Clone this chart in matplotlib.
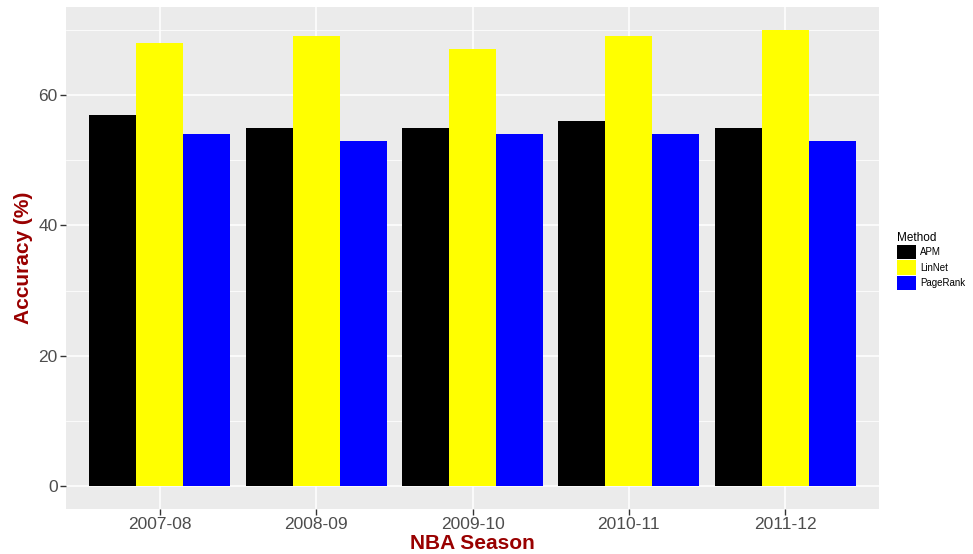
import numpy as np
import matplotlib
matplotlib.use("Agg")
import matplotlib.pyplot as plt
from matplotlib.patches import Patch

plt.rcParams['font.family'] = ['Liberation Sans', 'DejaVu Sans']

# data
seasons = ["2007-08", "2008-09", "2009-10", "2010-11", "2011-12"]
methods = ["APM", "LinNet", "PageRank"]
apm = [57, 55, 55, 56, 55]
linnet = [68, 69, 67, 69, 70]
pagerank = [54, 53, 54, 54, 53]
colors = ["black", "yellow", "blue"]

W, H = 973, 554
fig = plt.figure(figsize=(W / 100, H / 100), dpi=100)
# panel in pixels: left 66, right 879, top 7, bottom 509
ax = fig.add_axes([66 / W, 1 - 509 / H, (879 - 66) / W, (509 - 7) / H])
ax.set_facecolor("#EBEBEB")

x = np.arange(1, len(seasons) + 1)
bw = 0.3
for i, (vals, c) in enumerate(zip([apm, linnet, pagerank], colors)):
    ax.bar(x + (i - 1) * bw, vals, width=bw, color=c, zorder=3, linewidth=0)

ax.set_xlim(0.4, 5.6)
ax.set_ylim(-3.5, 73.5)
ax.set_xticks(x)
ax.set_xticklabels(seasons)
ax.set_yticks([0, 20, 40, 60])
ax.set_yticks([10, 30, 50, 70], minor=True)

ax.grid(True, which="major", color="white", linewidth=1.1, zorder=0)
ax.grid(True, which="minor", axis="y", color="white", linewidth=0.55, zorder=0)
for s in ax.spines.values():
    s.set_visible(False)
ax.tick_params(axis="both", which="major", colors="#333333", labelcolor="#4D4D4D",
               labelsize=12.5, length=4, width=1, pad=2)
ax.tick_params(axis="both", which="minor", length=0)

ax.set_xlabel("NBA Season", fontsize=15, fontweight="bold", color="#990000", labelpad=1)
ax.set_ylabel("Accuracy (%)", fontsize=15, fontweight="bold", color="#990000", labelpad=4)

handles = [Patch(facecolor=c, edgecolor="none") for c in colors]
leg = fig.legend(handles, methods, title="Method", loc="center left",
                 bbox_to_anchor=(894 / W, 1 - 261 / H), frameon=False,
                 fontsize=7, title_fontsize=8.5, handlelength=2.0, handleheight=1.9,
                 handletextpad=0.4, labelspacing=0.1, borderpad=0.3,
                 borderaxespad=0)
leg._legend_box.align = "left"

fig.savefig("out.png", dpi=100)
